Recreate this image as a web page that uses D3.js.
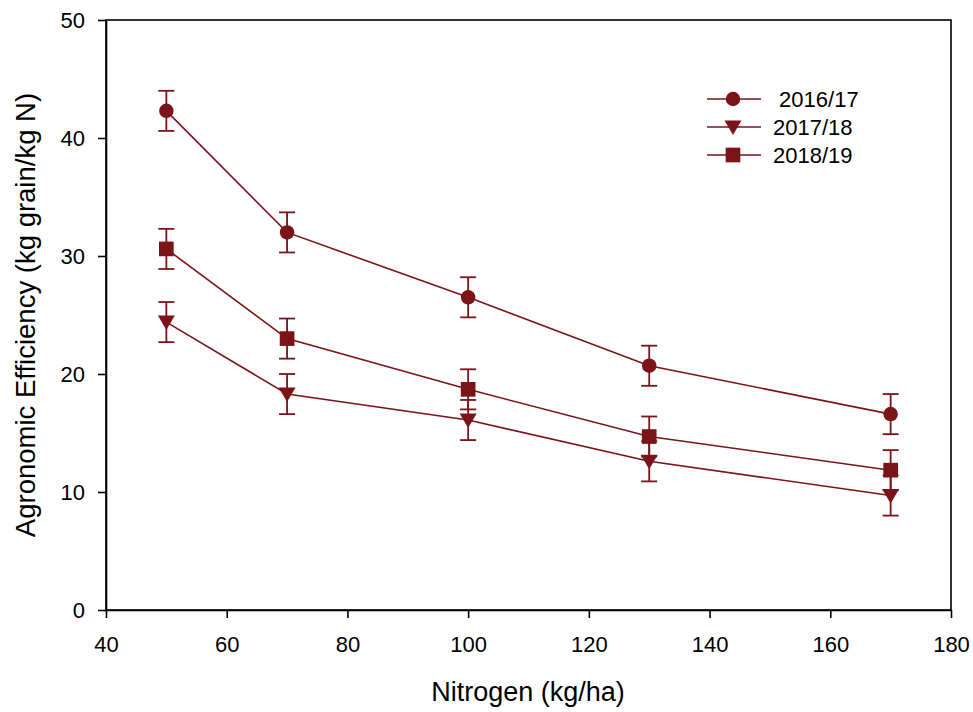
<!DOCTYPE html>
<html><head><meta charset="utf-8">
<script src="https://cdn.jsdelivr.net/npm/d3@7"></script>
<style>body{margin:0;background:#fff;} text{font-family:"Liberation Sans",Arial,sans-serif;}</style>
</head><body><svg id="c" width="973" height="712"></svg>
<script>
const nitrogen = [50, 70, 100, 130, 170];
const seriesNames = [" 2016/17", "2017/18", "2018/19"];
const s2016 = [42.3, 32.0, 26.5, 20.7, 16.6];
const s2017 = [24.4, 18.3, 16.1, 12.6, 9.7];
const s2018 = [30.6, 23.0, 18.7, 14.7, 11.85];
const err2016 = [1.7, 1.7, 1.7, 1.7, 1.7];
const err2017 = [1.7, 1.7, 1.7, 1.7, 1.7];
const err2018 = [1.7, 1.7, 1.7, 1.7, 1.7];
const xTicks = [40, 60, 80, 100, 120, 140, 160, 180];
const yTicks = [0, 10, 20, 30, 40, 50];

const color = "#7b1418";
const svg = d3.select("#c");
const L = 106, R = 951, T = 20, B = 610;
const x = d3.scaleLinear().domain([40, 180]).range([L, R]);
const y = d3.scaleLinear().domain([0, 50]).range([B, T]);

svg.append("rect").attr("x", L).attr("y", T).attr("width", R - L).attr("height", B - T)
  .attr("fill", "none").attr("stroke", "#000").attr("stroke-width", 1.6);

const xAxis = svg.append("g").attr("transform", `translate(0,${B})`)
  .call(d3.axisBottom(x).tickValues(xTicks).tickSize(8).tickSizeOuter(0).tickPadding(18));
const yAxis = svg.append("g").attr("transform", `translate(${L},0)`)
  .call(d3.axisLeft(y).tickValues(yTicks).tickSize(8).tickSizeOuter(0).tickPadding(13));
[xAxis, yAxis].forEach(g => {
  g.attr("font-size", 22).attr("font-family", "'Liberation Sans', Arial, sans-serif");
  g.select(".domain").attr("stroke-width", 1.6);
  g.selectAll(".tick line").attr("stroke-width", 1.6);
  g.selectAll("text").attr("fill", "#000");
});

svg.append("text").attr("x", 528).attr("y", 701).attr("text-anchor", "middle")
  .attr("font-size", 27).text("Nitrogen (kg/ha)");
svg.append("text").attr("transform", `translate(35,315) rotate(-90)`)
  .attr("text-anchor", "middle").attr("font-size", 27.5).text("Agronomic Efficiency (kg grain/kg N)");

const series = [
  {name: seriesNames[0], vals: s2016, err: err2016, sym: d3.symbolCircle, size: 165},
  {name: seriesNames[1], vals: s2017, err: err2017, sym: "tri", size: 0},
  {name: seriesNames[2], vals: s2018, err: err2018, sym: d3.symbolSquare, size: 215},
];

function marker(g, s, cx, cy) {
  if (s.sym === "tri") {
    g.append("path").attr("d", `M${cx-8.5},${cy-6.5} L${cx+8.5},${cy-6.5} L${cx},${cy+8} Z`).attr("fill", color);
  } else {
    g.append("path").attr("d", d3.symbol().type(s.sym).size(s.size)())
      .attr("transform", `translate(${cx},${cy})`).attr("fill", color);
  }
}

const line = d3.line().x((d, i) => x(nitrogen[i])).y(d => y(d));
series.forEach(s => {
  const g = svg.append("g");
  s.vals.forEach((v, i) => {
    const cx = x(nitrogen[i]);
    const y1 = y(v + s.err[i]), y0 = y(v - s.err[i]);
    g.append("line").attr("x1", cx).attr("x2", cx).attr("y1", y1).attr("y2", y0).attr("stroke", color).attr("stroke-width", 1.8);
    [y1, y0].forEach(yy => g.append("line").attr("x1", cx - 8).attr("x2", cx + 8).attr("y1", yy).attr("y2", yy).attr("stroke", color).attr("stroke-width", 1.8));
  });
  g.append("path").attr("d", line(s.vals)).attr("fill", "none").attr("stroke", color).attr("stroke-width", 1.6);
  s.vals.forEach((v, i) => marker(g, s, x(nitrogen[i]), y(v)));
});

const legY = [99, 127, 155];
series.forEach((s, i) => {
  const g = svg.append("g");
  g.append("line").attr("x1", 707).attr("x2", 761).attr("y1", legY[i]).attr("y2", legY[i]).attr("stroke", color).attr("stroke-width", 1.6);
  marker(g, s, 733, legY[i]);
  g.append("text").attr("x", 773).attr("y", legY[i]).attr("dy", "0.35em").attr("font-size", 22)
    .attr("xml:space", "preserve").style("white-space", "pre").text(s.name);
});
</script></body></html>
